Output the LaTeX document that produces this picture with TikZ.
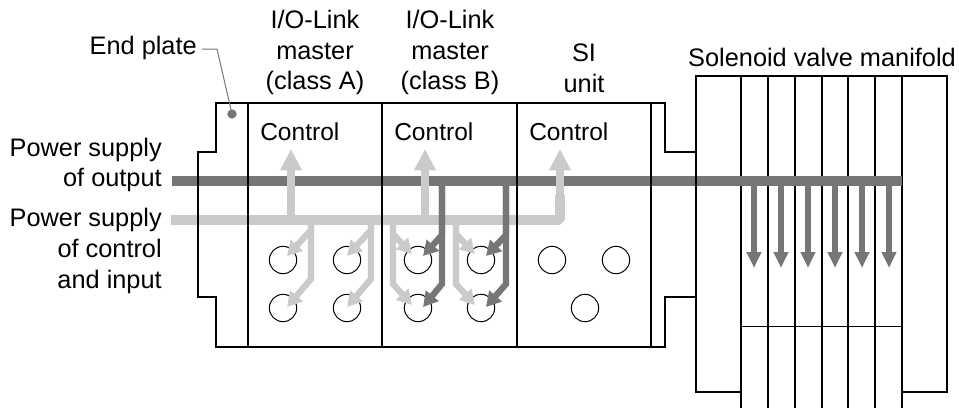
\documentclass[tikz,border=0pt]{standalone}
\usepackage{fontspec}
\setmainfont{Liberation Sans}
\usetikzlibrary{arrows.meta}
\definecolor{darkbar}{HTML}{767676}
\definecolor{lightbar}{HTML}{C9CBC9}
\tikzset{
  x=0.75pt,y=-0.75pt,
  frame/.style={draw=black,line width=0.95pt,line join=miter},
  socket/.style={circle,draw=black,line width=0.75pt,minimum size=20.5pt,inner sep=0pt},
  label/.style={font=\fontsize{19}{23}\selectfont,inner sep=0pt,align=center,text=black},
  ctrl/.style={font=\fontsize{18.4}{23}\selectfont,inner sep=0pt,text=black,anchor=west},
  sidelabel/.style={label,align=right,anchor=east},
  bigup/.style={line width=6.2pt,draw=lightbar,-{Triangle[width=15.5pt,length=16pt]}},
  busdark/.style={line width=7.4pt,draw=darkbar},
  buslight/.style={line width=7pt,draw=lightbar,line join=bevel},
  branchlight/.style={line width=4.7pt,draw=lightbar,line join=miter,-{Triangle[width=12pt,length=11pt]}},
  branchdark/.style={line width=4.7pt,draw=darkbar,line join=miter,-{Triangle[width=12pt,length=11pt]}},
  valvearrow/.style={line width=5.2pt,draw=darkbar,-{Triangle[width=10.5pt,length=12pt]}}
}
\begin{document}
\begin{tikzpicture}
\useasboundingbox (0,0) rectangle (959,408);
% sockets
\foreach \n/\x/\y in {a/283/260,b/283/308,c/347/260,d/347/308,e/418/260,f/418/308,g/481/260,h/481/308,i/552/260,j/616/260,k/585/308}{
  \node[socket] (s\n) at (\x,\y) {};
}
% buses
\draw[busdark] (172,181) -- (902,181);
\draw[bigup] (291,222) -- (291,149);
\draw[bigup] (425,222) -- (425,149);
\draw[buslight] (171,220) -- (560,220) -- (560,195);
\draw[bigup] (560,200) -- (560,149);
% branches
\foreach \xa/\xb in {311/287,371/347}{
  \draw[branchlight] (\xa,222) -- (\xa,230) -- (\xb,256);
  \draw[branchlight] (\xa,222) -- (\xa,279) -- (\xb,307);
}
\foreach \xa/\xb in {393/412,456/475}{
  \draw[branchlight] (\xa,222) -- (\xa,234) -- (\xb,254);
  \draw[branchlight] (\xa,222) -- (\xa,284) -- (\xb,305);
}
\foreach \xa/\xb in {442/423,506/486}{
  \draw[branchdark] (\xa,183) -- (\xa,235) -- (\xb,256);
  \draw[branchdark] (\xa,183) -- (\xa,284) -- (\xb,307);
}
% frame of units
\draw[frame] (248,103) -- (216,103) -- (216,152) -- (198,152) -- (198,297) -- (216,297) -- (216,347) -- (248,347);
\draw[frame] (248,103) rectangle (651,347);
\draw[frame] (382,103) -- (382,347);
\draw[frame] (517,103) -- (517,347);
\draw[frame] (651,103) -- (665,103) -- (665,152) -- (696,152);
\draw[frame] (651,347) -- (665,347) -- (665,297) -- (696,297);
% manifold
\draw[frame] (741,392) -- (696,392) -- (696,76) -- (947,76) -- (947,392) -- (902,392);
\foreach \x in {741,768,795,822,848,875,902}{
  \draw[frame] (\x,76) -- (\x,408);
}
\draw[frame,line width=0.75pt] (741,326) -- (902,326);
\draw[busdark] (697,181) -- (902,181);
\foreach \x in {754,781,808,835,862,889}{
  \draw[valvearrow] (\x,183) -- (\x,268);
}
% leader
\node[circle,fill=darkbar,minimum size=7pt,inner sep=0pt] (dot) at (232,114) {};
\node[label,anchor=east] (endplate) at (197,48) {End plate};
\coordinate (bend) at (217,49);
\coordinate (lead) at (202,49);
\draw[darkbar,line width=0.75pt] (lead) -- (bend) -- (dot.center);
% texts
\node[label] (m1) at (315,52.5) {I/O-Link\\master\\(class A)};
\node[label] (m2) at (450,52.5) {I/O-Link\\master\\(class B)};
\node[label] (si) at (584,68) {SI\\unit};
\node[label] (sv) at (822,57) {Solenoid valve manifold};
\node[ctrl] (c1) at (260,132) {Control};
\node[ctrl] (c2) at (394,132) {Control};
\node[ctrl] (c3) at (529,132) {Control};
\node[sidelabel] (p1) at (162,165) {Power supply\\of output};
\node[sidelabel] (p2) at (162,251) {Power supply\\of control\\and input};
\end{tikzpicture}
\end{document}
